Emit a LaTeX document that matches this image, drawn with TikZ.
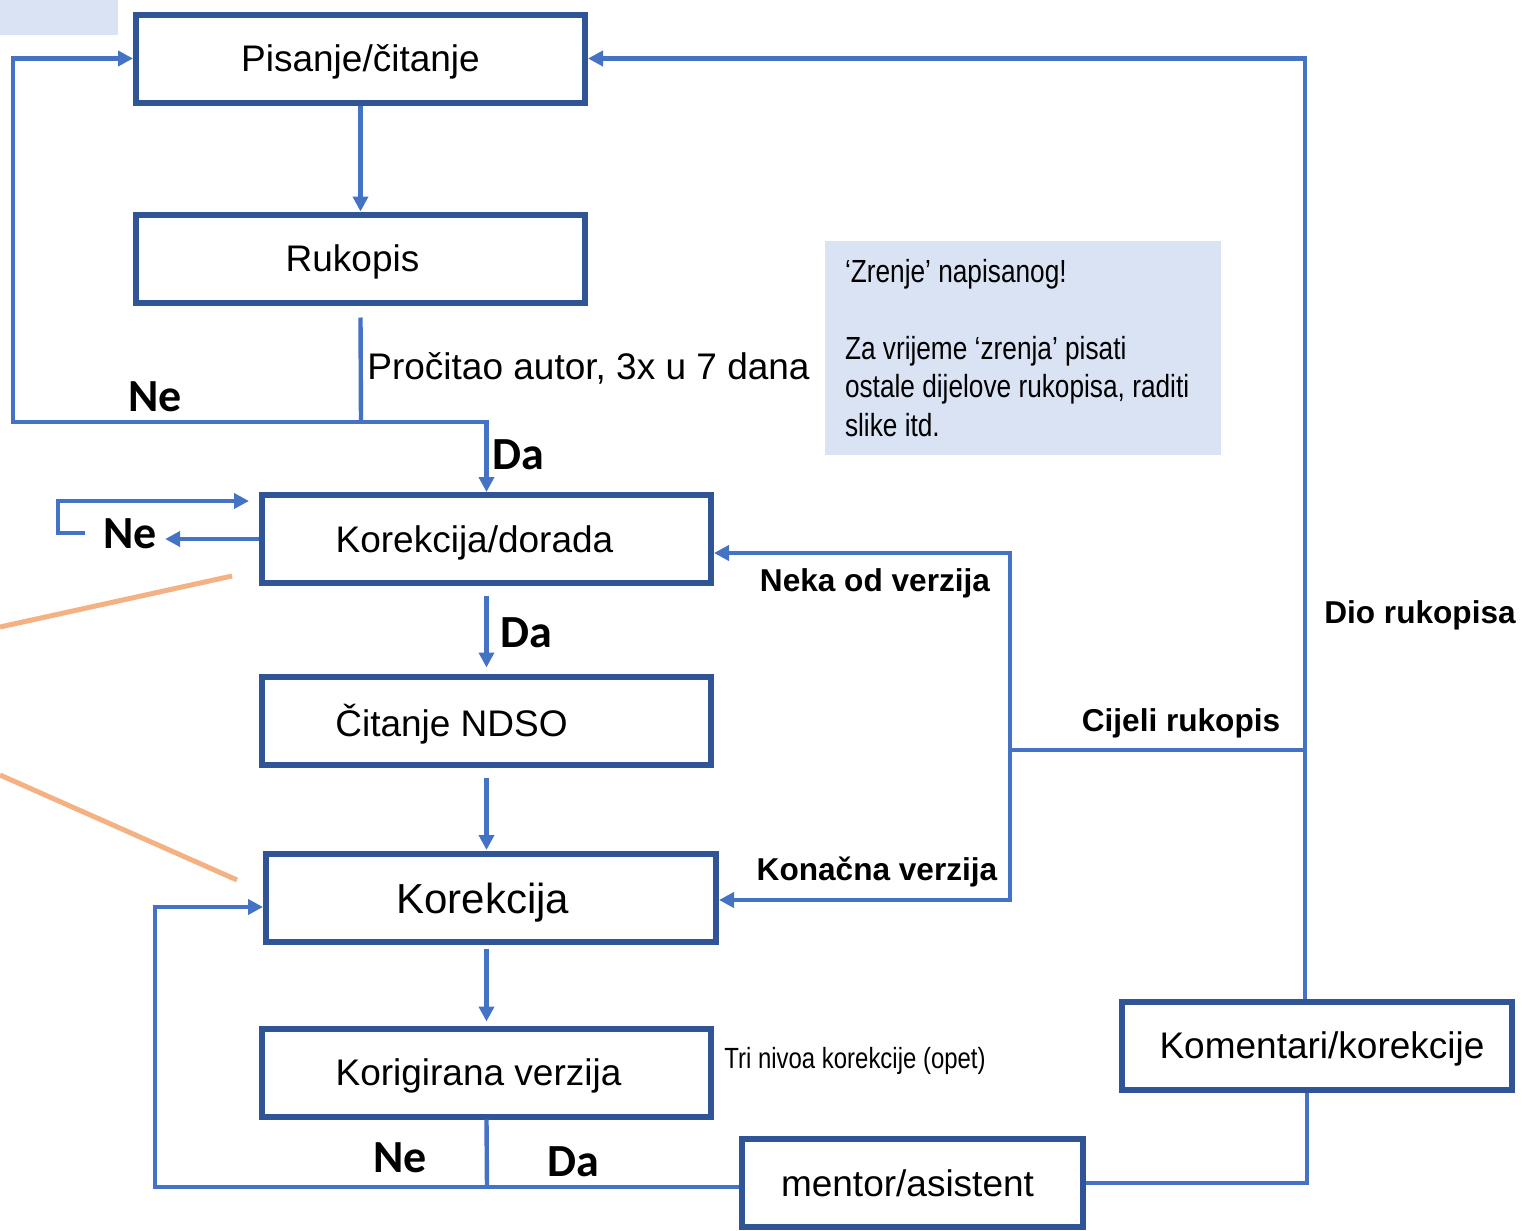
\documentclass[tikz,border=0pt]{standalone}
\usepackage{fontspec}
\setmainfont{Liberation Sans}
\newfontfamily\narrowfont[FakeStretch=0.82]{Liberation Sans}
\newfontfamily\calfont{Carlito}
\usetikzlibrary{arrows.meta, positioning, calc}
\definecolor{boxblue}{HTML}{2F5597}
\definecolor{lineblue}{HTML}{4472C4}
\definecolor{noteblue}{HTML}{DAE3F3}
\definecolor{peach}{HTML}{F4B183}

\begin{document}
\begin{tikzpicture}[x=0.5pt, y=-0.5pt,
    b/.style={draw=boxblue, line width=3pt, minimum width=224.5pt, minimum height=44pt, inner sep=0pt, text depth=0pt, font=\fontsize{18.5}{22}\selectfont},
    ln/.style={draw=lineblue, line width=2.2pt},
    arr/.style={ln, -{Triangle[length=7.5pt, width=7.5pt]}},
    yn/.style={inner sep=0pt, font=\calfont\bfseries\fontsize{23}{26}\selectfont},
    lab/.style={inner sep=0pt, text depth=0pt, font=\bfseries\fontsize{15.8}{18}\selectfont}]
        \useasboundingbox (0,0) rectangle (1522,1231);
        \fill[noteblue] (0,0) rectangle (118,35);

        \node[b] (pis) at (360.5,58.5) {Pisanje/čitanje};
        \node[b] (ruk) at (360.5,258.5) {Rukopis\hspace*{8pt}};
        \node[b] (kor) at (486.5,539) {Korekcija/dorada\hspace*{12pt}};
        \node[b] (ndso) at (486.5,720.5) {Čitanje NDSO\hspace*{35pt}};
        \node[b, minimum width=225pt, font=\fontsize{21}{25}\selectfont] (korek) at (491,898) {Korekcija\hspace*{8pt}};
        \node[b] (korig) at (486.5,1072.5) {Korigirana verzija\hspace*{8pt}};
        \node[b, minimum width=170.5pt] (ment) at (912.5,1183) {mentor/asistent\hspace*{5pt}};
        \node[b, minimum width=195pt] (kom) at (1317,1045.5) {\hspace*{5pt}Komentari/korekcije};

        \node[fill=noteblue, minimum width=198pt, minimum height=107pt, text width=178pt, inner xsep=10pt, align=flush left,
          font=\narrowfont\fontsize{16}{19.25}\selectfont] (zrenje) at (1023,348)
          {‘Zrenje’ napisanog!\\[19.25pt] Za vrijeme ‘zrenja’ pisati\\ ostale dijelove rukopisa, raditi\\ slike itd.};

        % pisanje -> rukopis, autor cita
        \draw[arr] (pis) -- (ruk);
        \coordinate (j1) at (361,422);
        \draw[ln] ([yshift=-6pt]ruk.south) -- (j1);
        \draw[arr] (j1) -| ([xshift=-60pt]pis.west) -- (pis.west);
        \draw[arr] (j1) -| (kor.north);
        \node[anchor=west, inner sep=0pt, text depth=0pt, font=\fontsize{18.5}{22}\selectfont] (proc) at (367,366) {Pročitao autor, 3x u 7 dana};
        \node[yn] (ne1) at (155,397) {Ne};
        \node[yn] (da1) at (518,455) {Da};

        % petlja kod korekcije/dorade
        \node[yn] (ne2) at (130,534) {Ne};
        \draw[arr, shorten >=4pt] (kor.west) -- (kor.west -| ne2.east);
        \coordinate (l1) at (85,533);
        \coordinate (l2) at (249,501);
        \draw[arr] (l1) -- (58,533) |- (l2);

        \draw[peach, line width=2.5pt] (0,627) -- (232,576);
        \draw[peach, line width=2.5pt] (0,775) -- (237,880);

        % glavni tok
        \draw[arr] ([yshift=-5pt]kor.south) -- ([yshift=3pt]ndso.north);
        \node[yn] (da2) at (526,633) {Da};
        \draw[arr] ([yshift=-5pt]ndso.south) -- (ndso.south |- 0,850);
        \draw[arr] (korig.north |- 0,949) -- ([yshift=2pt]korig.north);
        \node[anchor=west, inner sep=0pt, font=\narrowfont\fontsize{14.6}{17}\selectfont] (tri) at (724,1061) {Tri nivoa korekcije (opet)};

        \coordinate (j2) at (487,1187);
        \draw[ln] (korig.south) -- (j2);
        \draw[ln] (j2) -- (j2 -| ment.west);
        \draw[arr] (j2) -| (155,907) -- ([yshift=-4.5pt]korek.west);
        \node[yn] (ne3) at (400,1158) {Ne};
        \node[yn] (da3) at (573,1162) {Da};

        % mentor -> komentari -> nazad
        \draw[ln] (ment.east) -| ([xshift=-5pt]kom.south);
        \draw[arr] ([xshift=-6pt]kom.north) |- (pis.east);
        \coordinate (j3) at (1305,750);
        \draw[ln] (j3) -- (1010,750) coordinate (j4);
        \draw[arr] (j4) |- ([yshift=-7pt]kor.east);
        \draw[arr] (j4) |- ([yshift=-1pt]korek.east);

        \node[lab] (neka) at (875,580) {Neka od verzija};
        \node[lab] (kon) at (877,869) {Konačna verzija};
        \node[lab] (cij) at (1181,720) {Cijeli rukopis};
        \node[lab] (dio) at (1420,612) {Dio rukopisa};
\end{tikzpicture}
\end{document}
